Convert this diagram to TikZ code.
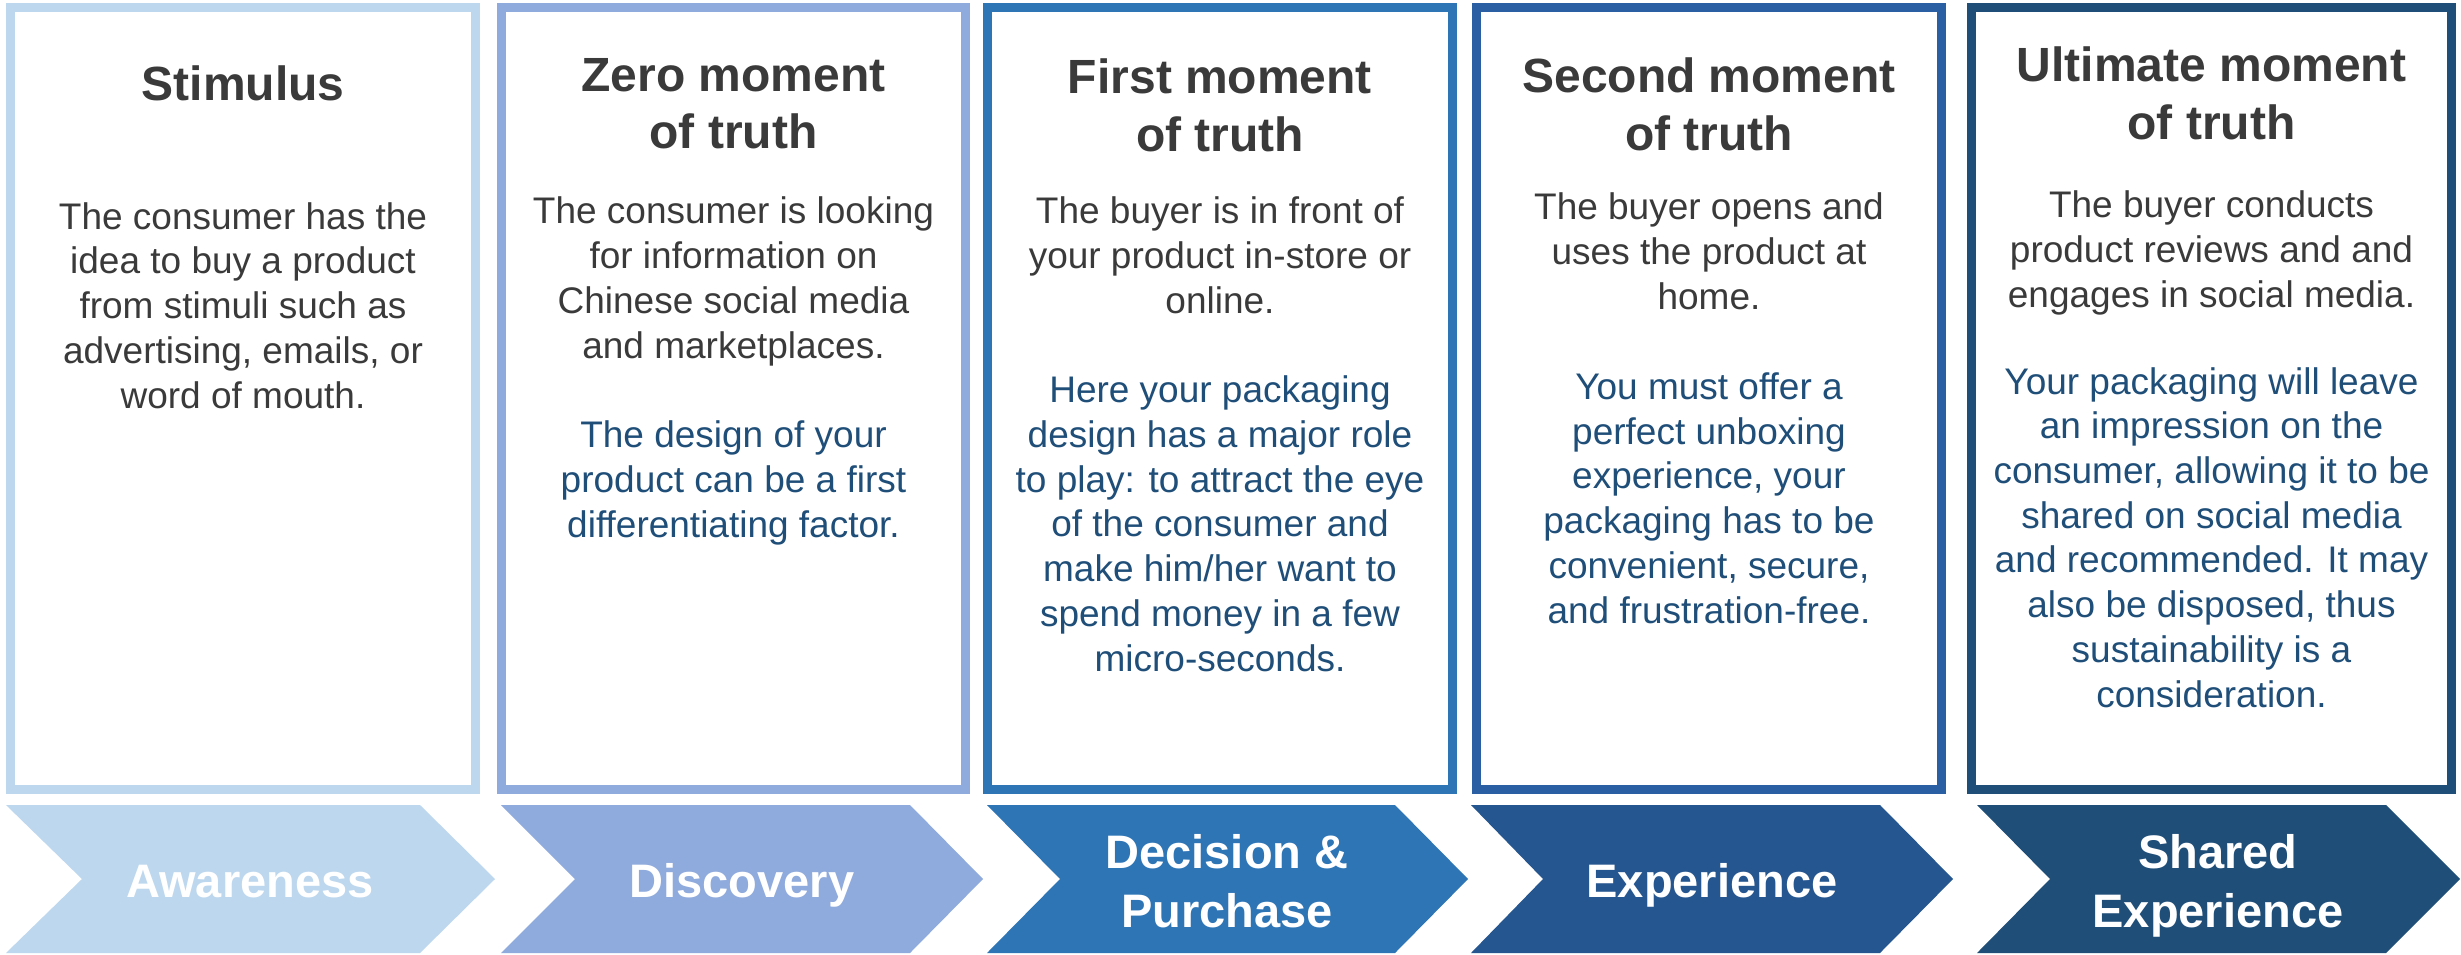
\documentclass[tikz,border=0pt]{standalone}
\usepackage{fontspec}
\setmainfont{Liberation Sans}
\definecolor{cA}{HTML}{BDD7EE}
\definecolor{cB}{HTML}{8FAADC}
\definecolor{cC}{HTML}{2E75B6}
\definecolor{cDbox}{HTML}{2B5FA3}
\definecolor{cD}{HTML}{26568F}
\definecolor{cE}{HTML}{1F4E79}
\definecolor{tgray}{HTML}{3A3A3A}
\definecolor{tblue}{HTML}{1F4E79}
\begin{document}
\begin{tikzpicture}[x=1pt,y=-1pt,
  framebox/.style={line width=9pt},
  ttl/.style={font=\bfseries\fontsize{48}{57.5}\selectfont, text=tgray, align=center, inner sep=0pt, anchor=base},
  bodytxt/.style={font=\fontsize{37}{44.7}\selectfont, text=tgray, align=center, inner sep=0pt, anchor=base},
  bluetxt/.style={font=\fontsize{37}{44.7}\selectfont, text=tblue, align=center, inner sep=0pt, anchor=base},
  lbl/.style={font=\bfseries\fontsize{47}{58.5}\selectfont, text=white, align=center, inner sep=0pt, anchor=base}]
\useasboundingbox (0,0) rectangle (2461,954);
\fill[white] (0,0) rectangle (2461,954);
% frames
\draw[framebox, cA] (10.5,7.5) rectangle (475.5,789.5);
\draw[framebox, cB] (501.5,7.5) rectangle (965.5,789.5);
\draw[framebox, cC] (987.5,7.5) rectangle (1452.5,789.5);
\draw[framebox, cDbox] (1476.5,7.5) rectangle (1941.5,789.5);
\draw[framebox, cE] (1971.5,7.5) rectangle (2451.5,789.5);
% chevrons
\fill[cA] (6,805) -- (420,805) -- (495,879) -- (420,953) -- (6,953) -- (82,879) -- cycle;
\fill[cB] (501,805) -- (910,805) -- (983,879) -- (910,953) -- (501,953) -- (575,879) -- cycle;
\fill[cC] (987,805) -- (1395,805) -- (1468,879) -- (1395,953) -- (987,953) -- (1060,879) -- cycle;
\fill[cD] (1471,805) -- (1880,805) -- (1953,879) -- (1880,953) -- (1471,953) -- (1543,879) -- cycle;
\fill[cE] (1977,805) -- (2386,805) -- (2460,879) -- (2386,953) -- (1977,953) -- (2050,879) -- cycle;
% chevron labels (base = baseline of last line)
\node[lbl] (l1) at (250,897) {Awareness};
\node[lbl] (l2) at (742,897) {Discovery};
\node[lbl] (l3) at (1227,927) {Decision \&\\Purchase};
\node[lbl] (l4) at (1712,897) {Experience};
\node[lbl] (l5) at (2218,927) {Shared\\Experience};
% box 1
\node[ttl] (t1) at (243,100) {Stimulus};
\node[bodytxt] (b1) at (243,408) {The consumer has the\\idea to buy a product\\from stimuli such as\\advertising, emails, or\\word of mouth.};
% box 2
\node[ttl] (t2) at (733.5,148.5) {Zero moment\\of truth};
\node[bodytxt] (b2) at (733.5,358) {The consumer is looking\\for information on\\Chinese social media\\and marketplaces.};
\node[bluetxt] (u2) at (733.5,537) {The design of your\\product can be a first\\differentiating factor.};
% box 3
\node[ttl] (t3) at (1220,151) {First moment\\of truth};
\node[bodytxt] (b3) at (1220,313) {The buyer is in front of\\your product in-store or\\online.};
\node[bluetxt] (u3) at (1220,671) {Here your packaging\\design has a major role\\to play: to attract the eye\\of the consumer and\\make him/her want to\\spend money in a few\\micro-seconds.};
% box 4
\node[ttl] (t4) at (1709,150) {Second moment\\of truth};
\node[bodytxt] (b4) at (1709,309) {The buyer opens and\\uses the product at\\home.};
\node[bluetxt] (u4) at (1709,623) {You must offer a\\perfect unboxing\\experience, your\\packaging has to be\\convenient, secure,\\and frustration-free.};
% box 5
\node[ttl] (t5) at (2211.5,139) {Ultimate moment\\of truth};
\node[bodytxt] (b5) at (2211.5,307) {The buyer conducts\\product reviews and and\\engages in social media.};
\node[bluetxt] (u5) at (2211.5,707) {Your packaging will leave\\an impression on the\\consumer, allowing it to be\\shared on social media\\and recommended. It may\\also be disposed, thus\\sustainability is a\\consideration.};
\end{tikzpicture}
\end{document}
